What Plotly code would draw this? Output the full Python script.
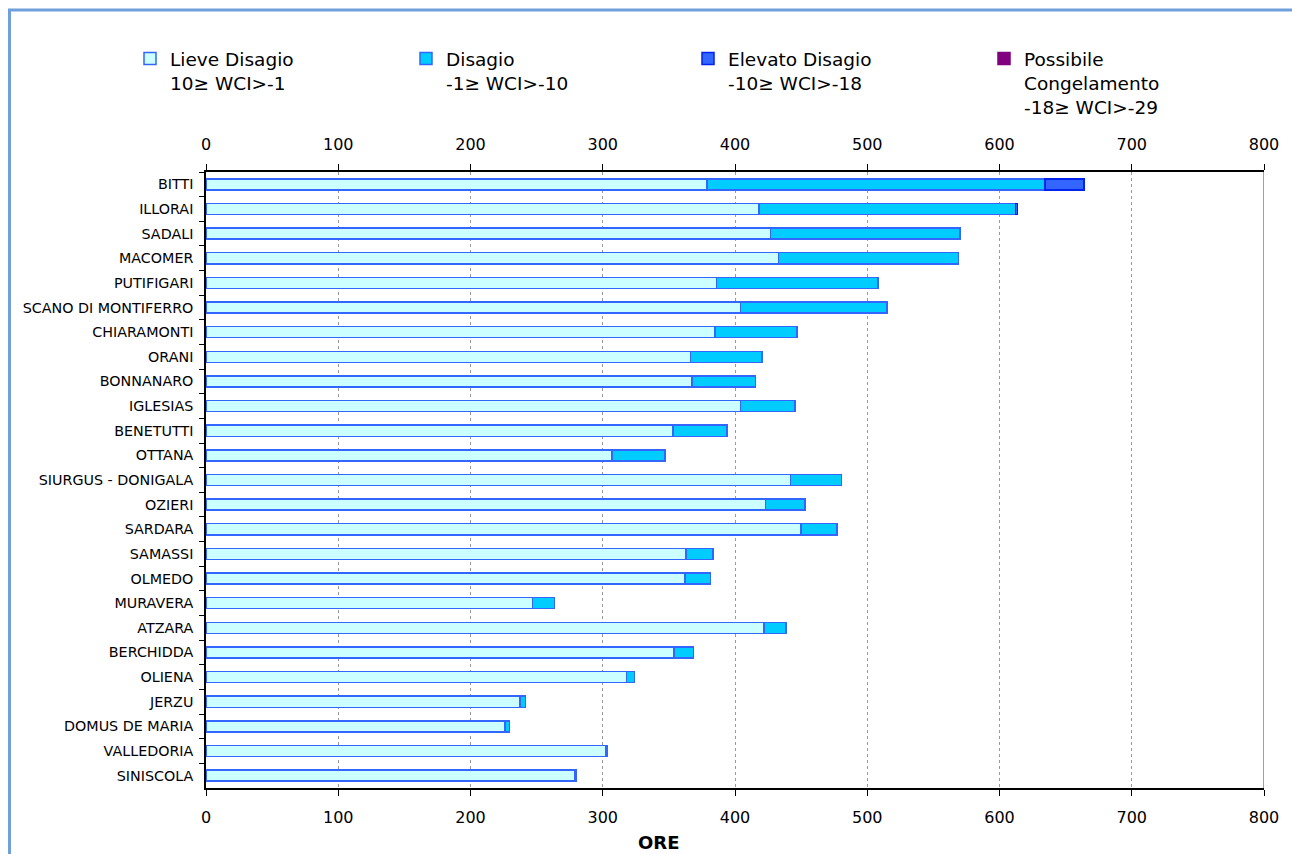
import plotly.graph_objects as go

categories = ["BITTI", "ILLORAI", "SADALI", "MACOMER", "PUTIFIGARI", "SCANO DI MONTIFERRO",
              "CHIARAMONTI", "ORANI", "BONNANARO", "IGLESIAS", "BENETUTTI", "OTTANA",
              "SIURGUS - DONIGALA", "OZIERI", "SARDARA", "SAMASSI", "OLMEDO", "MURAVERA",
              "ATZARA", "BERCHIDDA", "OLIENA", "JERZU", "DOMUS DE MARIA", "VALLEDORIA", "SINISCOLA"]
lieve = [379, 418, 427, 433, 386, 404, 385, 366.5, 367.5, 404, 353, 307, 442, 423, 450,
         363, 362, 247, 422, 354, 318, 237.5, 226, 302.5, 279]
disagio = [255.5, 194, 143, 136, 122, 111, 62, 54, 48, 41.5, 41, 40, 38.5, 30, 27,
           20.5, 19.5, 16.5, 16.5, 14.5, 6, 4, 3.5, 1.2, 1.2]
elevato = [29.5, 1.5] + [None] * 23
congelamento = [None] * 25

series_names = ["Lieve Disagio<br>10\u2265 WCI>-1",
                "Disagio<br>-1\u2265 WCI>-10",
                "Elevato Disagio<br>-10\u2265 WCI>-18",
                "Possibile<br>Congelamento<br>-18\u2265 WCI>-29"]
tick_vals = [0, 100, 200, 300, 400, 500, 600, 700, 800]

W, H = 1292, 854
L, R, T, B = 206, 1264, 172, 788
pw, ph = R - L, B - T

def px(x):
    return (x - L) / pw

def py(y):
    return (B - y) / ph

fills = ["#CCFFFF", "#00CCFF", "#3366FF", "#800080"]
lines = ["#3366FF", "#3366FF", "#0022EE", "#800080"]
values = [lieve, disagio, elevato, congelamento]
legend_ids = ["legend", "legend2", "legend3", "legend4"]

fig = go.Figure()
for name, vals, fc, lc, lg in zip(series_names, values, fills, lines, legend_ids):
    fig.add_trace(go.Bar(
        y=categories, x=vals, name=name, orientation="h",
        marker=dict(color=fc, line=dict(color=lc, width=1.5)),
        legend=lg,
    ))

fig.add_trace(go.Scatter(x=[None], y=[None], xaxis="x2", yaxis="y",
                         showlegend=False, hoverinfo="skip"))

FONT = "DejaVu Sans"
legend_font = dict(family=FONT, size=18.5, color="black")
legend_text_x = [172, 448, 730, 1026]
legends = {}
for lg, tx in zip(legend_ids, legend_text_x):
    legends[lg] = dict(
        x=px(tx - 42), y=py(40), xanchor="left", yanchor="top",
        bgcolor="rgba(0,0,0,0)", font=legend_font, valign="top",
        itemclick=False, itemdoubleclick=False,
    )

axis_font = dict(family=FONT, size=16, color="black")

fig.update_layout(
    width=W, height=H, autosize=False,
    margin=dict(l=L, r=W - R, t=T, b=H - B),
    paper_bgcolor="white", plot_bgcolor="white",
    barmode="stack", bargap=0.55,
    showlegend=True,
    font=dict(family=FONT),
    xaxis=dict(range=[0, 800], tickvals=tick_vals, showline=True, linecolor="black", linewidth=1.5,
               ticks="outside", ticklen=6, tickcolor="black", tickfont=axis_font,
               showgrid=True, gridcolor="#999999", griddash="dot", gridwidth=1,
               zeroline=False, ticklabelstandoff=8, fixedrange=True),
    xaxis2=dict(range=[0, 800], tickvals=tick_vals, overlaying="x", side="top", anchor="y",
                showline=True, linecolor="black", linewidth=1.5,
                ticks="outside", ticklen=6, tickcolor="black", tickfont=axis_font,
                showgrid=False, zeroline=False, ticklabelstandoff=8, fixedrange=True),
    yaxis=dict(autorange="reversed", showline=True, linecolor="black", linewidth=1.5,
               ticks="outside", ticklen=5, tickcolor="black", tickson="boundaries",
               tickfont=dict(family=FONT, size=14.3, color="black"),
               showgrid=False, ticklabelstandoff=8, fixedrange=True),
    annotations=[dict(text="<b>ORE</b>", x=px(658), y=py(843), xref="paper", yref="paper",
                      showarrow=False, xanchor="center", yanchor="middle",
                      font=dict(family=FONT, size=18, color="black"))],
    shapes=[
        dict(type="line", xref="x", yref="paper", x0=800, x1=800, y0=0, y1=1,
             line=dict(color="#a0a0a0", width=2)),
        dict(type="rect", xref="paper", yref="paper",
             x0=px(9.5), x1=px(1310), y0=py(10), y1=py(880),
             line=dict(color="#6F9FDC", width=3), fillcolor="rgba(0,0,0,0)", layer="above"),
    ],
    **legends,
)

fig.write_html("out.html")
